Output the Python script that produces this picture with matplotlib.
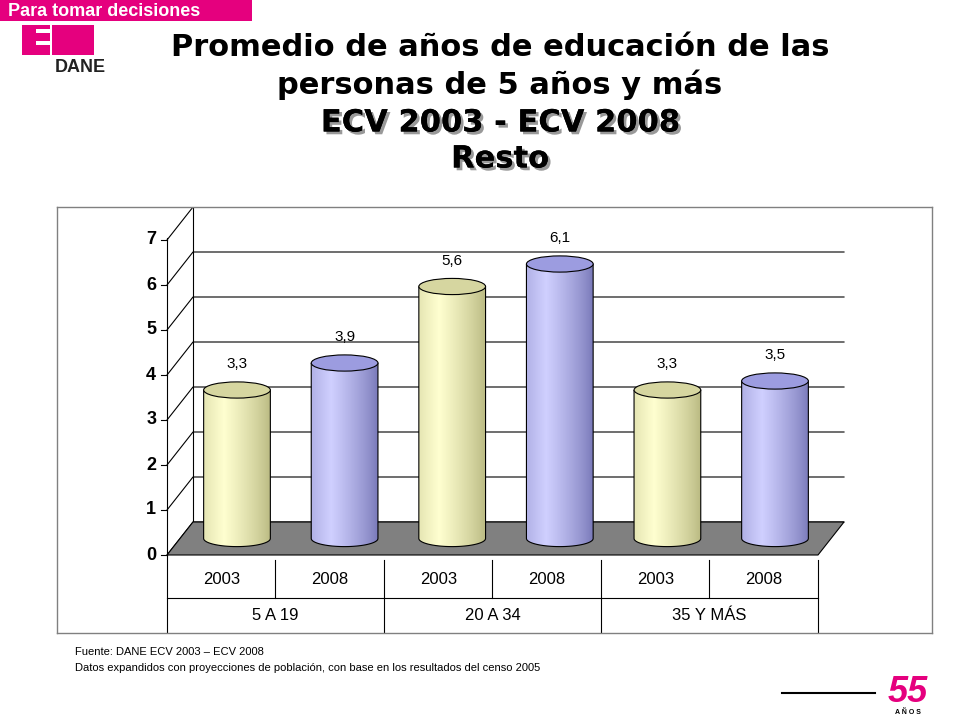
import matplotlib
matplotlib.use("Agg")
import matplotlib.pyplot as plt
import numpy as np
from matplotlib.patches import Polygon, Ellipse, Rectangle, PathPatch
from matplotlib.path import Path
from matplotlib.colors import to_rgb
import matplotlib.patheffects as pe

years = ["2003", "2008", "2003", "2008", "2003", "2008"]
groups = ["5 A 19", "20 A 34", "35 Y MÁS"]
values = [3.3, 3.9, 5.6, 6.1, 3.3, 3.5]
labels = ["3,3", "3,9", "5,6", "6,1", "3,3", "3,5"]
yticks = [0, 1, 2, 3, 4, 5, 6, 7]

W, H = 960, 720
fig = plt.figure(figsize=(9.6, 7.2), dpi=100)
FONT = "Liberation Sans"

PX = 107.6; PY = 45.0
x0p, y0p = 237, 555
L, R, T, B = 57, 932, 207, 633
ax = fig.add_axes([L / W, 1 - B / H, (R - L) / W, (B - T) / H])
ax.set_xlim((L - x0p) / PX, (R - x0p) / PX)
ax.set_ylim(-(B - y0p) / PY, (y0p - T) / PY)
for s in ax.spines.values():
    s.set_color("#808080"); s.set_linewidth(1)
ax.set_xticks([]); ax.set_yticks([])

DX, DY = 26 / PX, 33 / PY
xl = (167 - x0p) / PX
xr = (818 - x0p) / PX
ytop = 7.0
for v in yticks:
    ax.plot([xl, xl + DX, xr + DX], [v, v + DY, v + DY], color="black", lw=0.8, zorder=1)
ax.plot([xl, xl], [0, ytop + 0.05], color="black", lw=0.8, zorder=1)
ax.plot([xl + DX, xl + DX], [DY, ytop + DY + 0.7], color="black", lw=0.8, zorder=1)
for v in yticks:
    ax.plot([xl - 0.06, xl], [v, v], color="black", lw=0.8)
    ax.text(xl - 0.1, v, str(v), ha="right", va="center", fontsize=13,
            fontweight="bold", family=FONT)
ax.add_patch(Polygon([[xl, 0], [xr, 0], [xr + DX, DY], [xl + DX, DY]],
                     closed=True, facecolor="#808080", edgecolor="black", lw=0.8, zorder=2))

cw = 0.31
eh = 0.18
yb = DY / 2
cols = [("#FFFFD0", "#B8B880", "#D6D6A0"), ("#D0D0FF", "#7878B8", "#9C9CE0")]
for i, v in enumerate(values):
    c_light, c_dark, c_top = cols[i % 2]
    xc = i
    top = yb + v
    t = np.linspace(np.pi, 2 * np.pi, 40)
    bx = xc + cw * np.cos(t); by = yb + eh * np.sin(t)
    verts = [(xc - cw, top)] + list(zip(bx, by)) + [(xc + cw, top), (xc - cw, top)]
    path = Path(verts)
    grad = np.linspace(0, 1, 200)
    shade = np.clip(1 - np.abs(grad - 0.3) / 0.7, 0, 1) ** 0.8
    a = np.array(to_rgb(c_light)); b = np.array(to_rgb(c_dark))
    img = (b[None, :] + (a - b)[None, :] * shade[:, None])[None, :, :]
    im = ax.imshow(img, extent=[xc - cw, xc + cw, yb - eh, top], aspect="auto",
                   zorder=3, interpolation="bilinear")
    pp = PathPatch(path, facecolor="none", edgecolor="black", lw=0.8, zorder=4)
    ax.add_patch(pp)
    im.set_clip_path(pp)
    ax.add_patch(Ellipse((xc, top), 2 * cw, 2 * eh, facecolor=c_top,
                         edgecolor="black", lw=0.8, zorder=5))
    ax.text(xc, top + 0.42, labels[i], ha="center", va="bottom", fontsize=11, family=FONT, zorder=6)

# table
r1 = -(560 - y0p) / PY; r2 = -(598 - y0p) / PY; r3 = -(B - y0p) / PY
cwid = (xr - xl) / 6
ax.plot([xl, xl], [0, r3], color="black", lw=0.8)
ax.plot([xl, xr], [r2, r2], color="black", lw=0.8)
for k in range(1, 7):
    xb = xl + k * cwid
    bottom = r3 if k % 2 == 0 else r2
    ax.plot([xb, xb], [r1, bottom], color="black", lw=0.8)
for i, yr in enumerate(years):
    ax.text(xl + (i + 0.5) * cwid, (r1 + r2) / 2, yr, ha="center", va="center", fontsize=12, family=FONT)
for g, name in enumerate(groups):
    ax.text(xl + (2 * g + 1) * cwid, (r2 + r3) / 2, name, ha="center", va="center", fontsize=12, family=FONT)

TF = "DejaVu Sans"
fig.text(500 / W, 1 - 47 / H, "Promedio de años de educación de las", ha="center", va="center",
         fontsize=22, fontweight="bold", family=TF)
fig.text(500 / W, 1 - 85 / H, "personas de 5 años y más", ha="center", va="center",
         fontsize=22, fontweight="bold", family=TF)
sh = [pe.withSimplePatchShadow(offset=(2, -2), shadow_rgbFace="#999999", alpha=1), pe.Normal()]
for txt, yy in [("ECV 2003 - ECV 2008", 123), ("Resto", 159)]:
    fig.text(500 / W, 1 - yy / H, txt, ha="center", va="center", fontsize=22,
             fontweight="bold", family=TF, path_effects=sh)

fig.text(75 / W, 1 - 652 / H, "Fuente: DANE ECV 2003 – ECV 2008", fontsize=8, va="center", family=FONT)
fig.text(75 / W, 1 - 668 / H, "Datos expandidos con proyecciones de población, con base en los resultados del censo 2005",
         fontsize=8, va="center", family=FONT)

pink = "#E5007E"
fig.patches.append(Rectangle((0, 1 - 21 / H), 252 / W, 21 / H, transform=fig.transFigure,
                             facecolor=pink, edgecolor="none"))
fig.text(8 / W, 1 - 11 / H, "Para tomar decisiones", color="white", fontsize=13,
         fontweight="bold", family=FONT, va="center")
fig.patches.append(Rectangle((22 / W, 1 - 55 / H), 28 / W, 30 / H, transform=fig.transFigure,
                             facecolor=pink, edgecolor="none"))
for yy in (33, 45):
    fig.patches.append(Rectangle((36 / W, 1 - yy / H), 16 / W, 4 / H, transform=fig.transFigure,
                                 facecolor="white", edgecolor="none"))
fig.patches.append(Rectangle((52 / W, 1 - 55 / H), 42 / W, 30 / H, transform=fig.transFigure,
                             facecolor=pink, edgecolor="none"))
fig.text(55 / W, 1 - 67 / H, "DANE", fontsize=13, fontweight="bold", family=FONT, va="center",
         color="#222222")
fig.text(908 / W, 1 - 692 / H, "55", fontsize=26, fontweight="bold", family=FONT,
         ha="center", va="center", color=pink, style="italic")
fig.text(908 / W, 1 - 712 / H, "A Ñ O S", fontsize=5, fontweight="bold", family=FONT,
         ha="center", va="center")
fig.lines.append(plt.Line2D([782 / W, 875 / W], [1 - 693 / H, 1 - 693 / H],
                            transform=fig.transFigure, color="black", lw=1.5))

fig.savefig("out.png", dpi=100)
